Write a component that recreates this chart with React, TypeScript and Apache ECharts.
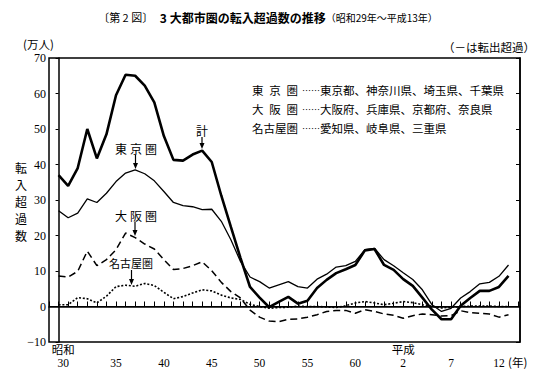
import React, { useEffect, useRef } from "react";
import * as echarts from "echarts";

// x index 0 = 昭和29年 (1954) ... 47 = 平成13年 (2001)
const total = [37, 34, 39, 50, 41.7, 48.5, 59.5, 65.3, 65, 62.2, 57.5, 48, 41.3, 41.1, 42.8, 43.9, 40.7, 31.2, 22.4, 13.7, 5.5, 2.5, -0.2, 1.3, 2.7, 0.8, 1.6, 5.2, 7.5, 9.4, 10.5, 11.7, 15.8, 16.2, 11.7, 10.3, 7.7, 5.8, 2.5, -0.9, -3.6, -3.6, 0.2, 2.4, 4.4, 4.4, 5.5, 8.6];
const tokyo = [27, 25, 26.3, 30.3, 29.3, 31.9, 35.2, 37.6, 38.5, 37.4, 35.4, 32.4, 29.3, 28.4, 28.1, 27.3, 27.4, 24, 18.8, 12.7, 8.3, 7.0, 5.2, 6.1, 7.0, 5.6, 5.2, 7.7, 9.1, 11.1, 11.5, 12.7, 16, 16.4, 13.2, 11.5, 9.5, 7.6, 4.7, 0.5, -1.4, -0.5, 2.4, 4.2, 6.4, 6.8, 8.5, 11.7];
const osaka = [8.6, 8.3, 9.9, 15.6, 11.5, 13.2, 16.0, 20.7, 19.4, 17.6, 16.2, 13.2, 10.4, 10.7, 11.5, 12.6, 10.1, 6.8, 4.2, 2.4, -1.0, -3.0, -4.1, -4.3, -3.6, -3.5, -3.0, -2.3, -1.4, -1.1, -1.1, -1.9, -0.9, -1.4, -2.1, -2.5, -3.3, -2.6, -2.1, -2.3, -2.7, -2.6, -1.2, -1.7, -1.9, -2.1, -3.0, -2.3];
const nagoya = [0.5, 0.5, 2.5, 2.2, 1.0, 2.9, 5.6, 6.0, 5.7, 6.5, 5.9, 4.0, 2.2, 2.8, 3.8, 4.7, 4.4, 3.2, 2.4, 2.0, 0.6, 0.0, -0.5, -0.3, -0.2, 0.1, 0.0, 0.0, -0.1, -0.3, 0.2, 1.0, 1.4, 1.0, 0.5, 0.9, 1.4, 1.1, 0.5, 0.1, -0.4, -0.2, 0.0, 0.1, 0.1, 0.1, 0.0, 0.0];

const xLabels: Record<number, string> = {
  1: "{s|昭和}\n{s|30}", 6: "\n35", 11: "\n40", 16: "\n45", 21: "\n50", 26: "\n55", 31: "\n60",
  36: "平成\n2", 41: "\n7", 46: "\n12",
};

const legendRows = [
  { name: "東京圏", spaced: true, text: "東京都、神奈川県、埼玉県、千葉県" },
  { name: "大阪圏", spaced: true, text: "大阪府、兵庫県、京都府、奈良県" },
  { name: "名古屋圏", spaced: false, text: "愛知県、岐阜県、三重県" },
];

const CJK = '"Noto Sans CJK JP", sans-serif';
const SERIF = '"Liberation Serif", serif';

const toXY = (arr: number[]) => arr.map((v, i) => [i, v]);

function spread(text: string, x0: number, x1: number, y: number, fs: number): any[] {
  const chars = Array.from(text);
  const n = chars.length;
  const step = n > 1 ? (x1 - x0 - fs) / (n - 1) : 0;
  return chars.map((c, k) => ({
    type: "text",
    x: x0 + k * step,
    y,
    style: { text: c, font: `${fs}px ${CJK}`, fill: "#000", textAlign: "left", textVerticalAlign: "middle" },
  }));
}

function arrow(x: number, y1: number, tip: number): any[] {
  return [
    { type: "line", shape: { x1: x, y1, x2: x, y2: tip - 4 }, style: { stroke: "#000", lineWidth: 1.2 } },
    { type: "polygon", shape: { points: [[x - 2.5, tip - 6], [x + 2.5, tip - 6], [x, tip]] }, style: { fill: "#000" } },
  ];
}

export default function App() {
  const ref = useRef<HTMLDivElement>(null);
  useEffect(() => {
    if (!ref.current) return;
    const chart = echarts.init(ref.current, null, { renderer: "svg" });
    const graphics: any[] = [
      {
        type: "text", x: 268, y: 17,
        style: {
          text: "{a|〔第 2 図〕}  {b|3 大都市圏の転入超過数の推移}{c|（昭和29年～平成13年）}",
          textAlign: "center", textVerticalAlign: "middle",
          rich: {
            a: { font: `11px ${CJK}`, fill: "#000" },
            b: { font: `bold 12px ${CJK}`, fill: "#000" },
            c: { font: `10px ${CJK}`, fill: "#000" },
          },
        },
      },
      { type: "text", x: 23, y: 44, style: { text: "(万人)", font: `11.5px ${CJK}`, fill: "#000", textAlign: "left", textVerticalAlign: "middle" } },
      { type: "text", x: 535, y: 47, style: { text: "（－は転出超過）", font: `11.5px ${CJK}`, fill: "#000", textAlign: "right", textVerticalAlign: "middle" } },
      { type: "text", x: 21, y: 159.5, style: { text: "転\n入\n超\n過\n数", font: `12px ${CJK}`, lineHeight: 16.8, fill: "#000", textAlign: "center", textVerticalAlign: "top" } },
      { type: "text", x: 508, y: 362, style: { text: "(年)", font: `11.5px ${CJK}`, fill: "#000", textAlign: "left", textVerticalAlign: "middle" } },
      // annotations
      { type: "text", x: 202, y: 130, style: { text: "計", font: `12px ${CJK}`, fill: "#000", textAlign: "center", textVerticalAlign: "middle" } },
      ...arrow(202, 137, 149),
      ...spread("東京圏", 115, 157, 148, 12),
      ...arrow(135.5, 155, 169),
      ...spread("大阪圏", 115, 157, 215, 12),
      ...arrow(135, 222, 236),
      { type: "text", x: 131, y: 263, style: { text: "名古屋圏", font: `11px ${CJK}`, fill: "#000", textAlign: "center", textVerticalAlign: "middle" } },
      ...arrow(131.5, 270, 285),
    ];
    legendRows.forEach((r, k) => {
      const y = 90 + k * 19;
      if (r.spaced) graphics.push(...spread(r.name, 252, 298, y, 11.5));
      else graphics.push({ type: "text", x: 252, y, style: { text: r.name, font: `11.5px ${CJK}`, fill: "#000", textAlign: "left", textVerticalAlign: "middle" } });
      graphics.push({ type: "text", x: 302, y, style: { text: "……", font: `9px ${CJK}`, fill: "#000", textAlign: "left", textVerticalAlign: "middle" } });
      graphics.push({ type: "text", x: 320, y, style: { text: r.text, font: `11.5px ${CJK}`, fill: "#000", textAlign: "left", textVerticalAlign: "middle" } });
    });

    const lineBase = { type: "line", symbol: "none", silent: true };
    chart.setOption({
      animation: false,
      backgroundColor: "#fff",
      grid: { left: 49, right: 21, top: 58, bottom: 40, show: true, borderColor: "#000", borderWidth: 1.5 },
      xAxis: {
        type: "value", min: -1, max: 48.2, interval: 1,
        axisLine: { show: true, lineStyle: { color: "#000", width: 1.5 } },
        axisTick: { show: true, inside: true, length: 5, lineStyle: { color: "#000", width: 1 } },
        splitLine: { show: false },
        axisLabel: {
          show: true, margin: 2, color: "#000", fontSize: 11.5, lineHeight: 12.5, fontFamily: `${SERIF}, ${CJK}`,
          formatter: (v: number) => xLabels[Math.round(v)] !== undefined && Math.abs(v - Math.round(v)) < 1e-6 ? xLabels[Math.round(v)] : "",
          showMinLabel: true, showMaxLabel: false, hideOverlap: false, interval: 0,
          rich: { s: { fontSize: 11.5, lineHeight: 12.5, fontFamily: `${SERIF}, ${CJK}`, color: "#000", padding: [0, 10, 0, 0] } },
        },
      },
      yAxis: [
        {
          type: "value", min: -10, max: 70, interval: 10,
          axisLine: { show: true, lineStyle: { color: "#000", width: 1.5 } },
          axisTick: { show: true, inside: false, length: 3, lineStyle: { color: "#000", width: 1 } },
          splitLine: { show: false },
          axisLabel: { margin: 3, color: "#000", fontSize: 12, fontFamily: SERIF, formatter: (v: number) => (v < 0 ? "−" + Math.abs(v) : String(v)) },
        },
        {
          type: "value", min: -10, max: 70, interval: 10, position: "right",
          axisLine: { show: true, lineStyle: { color: "#000", width: 1.5 } },
          axisTick: { show: true, inside: true, length: 4, lineStyle: { color: "#000", width: 1 } },
          splitLine: { show: false },
          axisLabel: { show: false },
        },
      ],
      graphic: graphics,
      series: [
        {
          ...lineBase, name: "計", data: toXY(total), lineStyle: { color: "#000", width: 2.6 },
          markLine: { silent: true, symbol: "none", label: { show: false }, lineStyle: { color: "#000", width: 1, type: "solid" }, data: [{ yAxis: 0 }] },
        },
        { ...lineBase, name: "東京圏", data: toXY(tokyo), lineStyle: { color: "#000", width: 1.3 } },
        { ...lineBase, name: "大阪圏", data: toXY(osaka), lineStyle: { color: "#000", width: 1.5, type: [7, 4] } },
        { ...lineBase, name: "名古屋圏", data: toXY(nagoya), lineStyle: { color: "#000", width: 1.6, type: [2, 1.8] } },
      ],
    });
    return () => chart.dispose();
  }, []);
  return <div ref={ref} style={{ position: "fixed", left: 0, top: 0, width: 541, height: 382, background: "#fff" }} />;
}
